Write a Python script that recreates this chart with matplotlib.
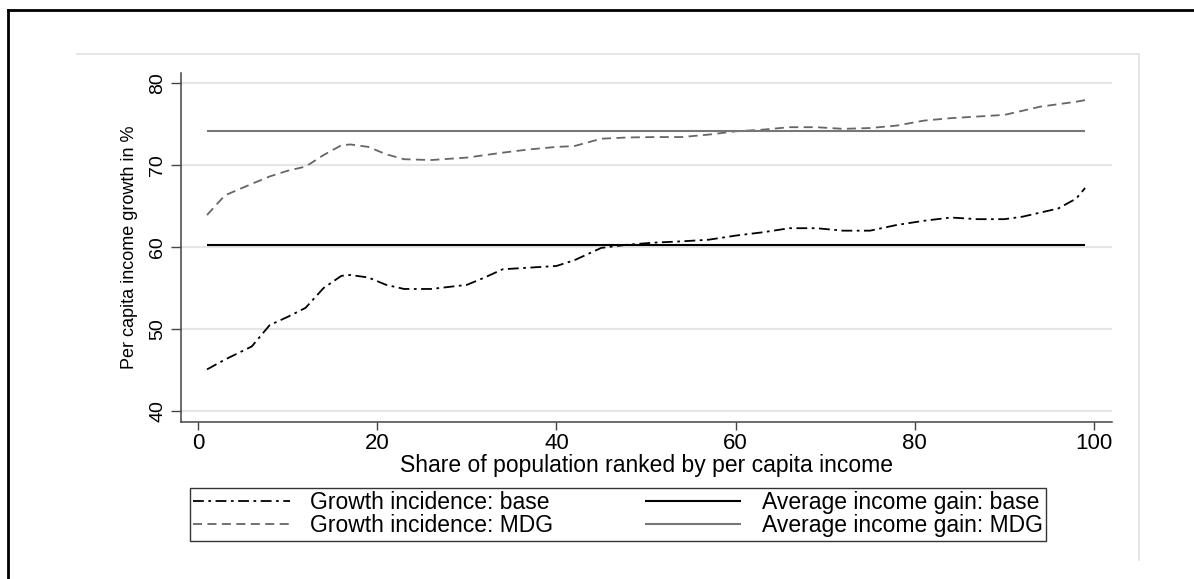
import matplotlib.pyplot as plt
from matplotlib.lines import Line2D

# population share (percentile) and growth incidence curves
share = [1, 3, 6, 8, 10, 12, 14, 16, 17, 19, 21, 23, 26, 30, 32, 34, 37, 40, 42, 45,
         48, 51, 54, 57, 60, 63, 66, 69, 72, 75, 78, 81, 84, 87, 90, 92, 94, 96, 98, 99]
gic_base = [45.1, 46.3, 47.9, 50.5, 51.5, 52.6, 55.0, 56.5, 56.6, 56.3, 55.4, 54.9, 54.9, 55.4,
            56.3, 57.3, 57.5, 57.7, 58.4, 59.9, 60.3, 60.55, 60.7, 60.9, 61.4, 61.8, 62.3, 62.3,
            62.0, 62.0, 62.7, 63.2, 63.6, 63.4, 63.4, 63.7, 64.2, 64.7, 65.9, 67.2]
gic_mdg = [63.9, 66.3, 67.7, 68.6, 69.3, 69.8, 71.2, 72.4, 72.5, 72.2, 71.3, 70.7, 70.6, 70.9,
           71.2, 71.5, 71.9, 72.2, 72.3, 73.2, 73.35, 73.4, 73.4, 73.7, 74.1, 74.3, 74.6, 74.6,
           74.4, 74.5, 74.8, 75.4, 75.7, 75.9, 76.1, 76.6, 77.1, 77.4, 77.7, 77.9]
avg_base = 60.3
avg_mdg = 74.1

x_ticks = [0, 20, 40, 60, 80, 100]
y_ticks = [40, 50, 60, 70, 80]

plt.rcParams['font.family'] = ['Liberation Sans', 'DejaVu Sans']

fig = plt.figure(figsize=(11.94, 5.79), dpi=100)
ax = fig.add_axes([181 / 1194, 1 - 422 / 579, (1112 - 181) / 1194, (422 - 73) / 579])

# grid
for yv in y_ticks:
    ax.axhline(yv, color='#e6e6e6', lw=1.6, zorder=0)

ax.plot(share, gic_base, color='black', lw=1.3, dashes=(6, 2.5, 1.5, 2.5), label='Growth incidence: base')
ax.plot(share, gic_mdg, color='#666666', lw=1.3, dashes=(5, 3), label='Growth incidence: MDG')
ax.hlines(avg_base, share[0], share[-1], color='black', lw=1.5, label='Average income gain: base')
ax.hlines(avg_mdg, share[0], share[-1], color='#777777', lw=1.5, label='Average income gain: MDG')

ax.set_xlim(-1.9, 102)
ax.set_ylim(38.7, 81.2)
ax.set_xticks(x_ticks)
ax.set_yticks(y_ticks)
ax.spines['top'].set_visible(False)
ax.spines['right'].set_visible(False)
for s in ['left', 'bottom']:
    ax.spines[s].set_color('#444444')
    ax.spines[s].set_linewidth(1.1)
ax.tick_params(axis='x', length=6, width=1, color='#444444', labelsize=16, pad=2)
ax.tick_params(axis='y', length=7.5, width=1, color='#444444', labelsize=14, labelrotation=90, pad=3)
for lab in ax.get_yticklabels():
    lab.set_va('center')

ax.set_xlabel('Share of population ranked by per capita income', fontsize=16.5, labelpad=0)
ax.set_ylabel('Per capita income growth in %', fontsize=13, labelpad=8)

handles, labels = ax.get_legend_handles_labels()
leg = fig.legend(handles, labels, ncol=2, loc='upper left',
                 bbox_to_anchor=(190 / 1194, 1 - 488 / 579),
                 fontsize=16.5, frameon=True, fancybox=False, edgecolor='black',
                 handlelength=4.2, handletextpad=0.9, labelspacing=0.0, borderpad=0.15,
                 columnspacing=4.0, borderaxespad=0)
leg.get_frame().set_linewidth(1.0)

# outer frames
fig.add_artist(Line2D([77 / 1194, 1139 / 1194], [1 - 54 / 579, 1 - 54 / 579], color='#e2e2e2', lw=1.2))
fig.add_artist(Line2D([1139 / 1194, 1139 / 1194], [1 - 54 / 579, 1 - 560 / 579], color='#e2e2e2', lw=1.2))
fig.add_artist(Line2D([7.5 / 1194, 1], [1 - 9.5 / 579, 1 - 9.5 / 579], color='black', lw=2))
fig.add_artist(Line2D([7.5 / 1194, 7.5 / 1194], [0, 1 - 9.5 / 579], color='black', lw=2))

fig.savefig('out.png', dpi=100)
